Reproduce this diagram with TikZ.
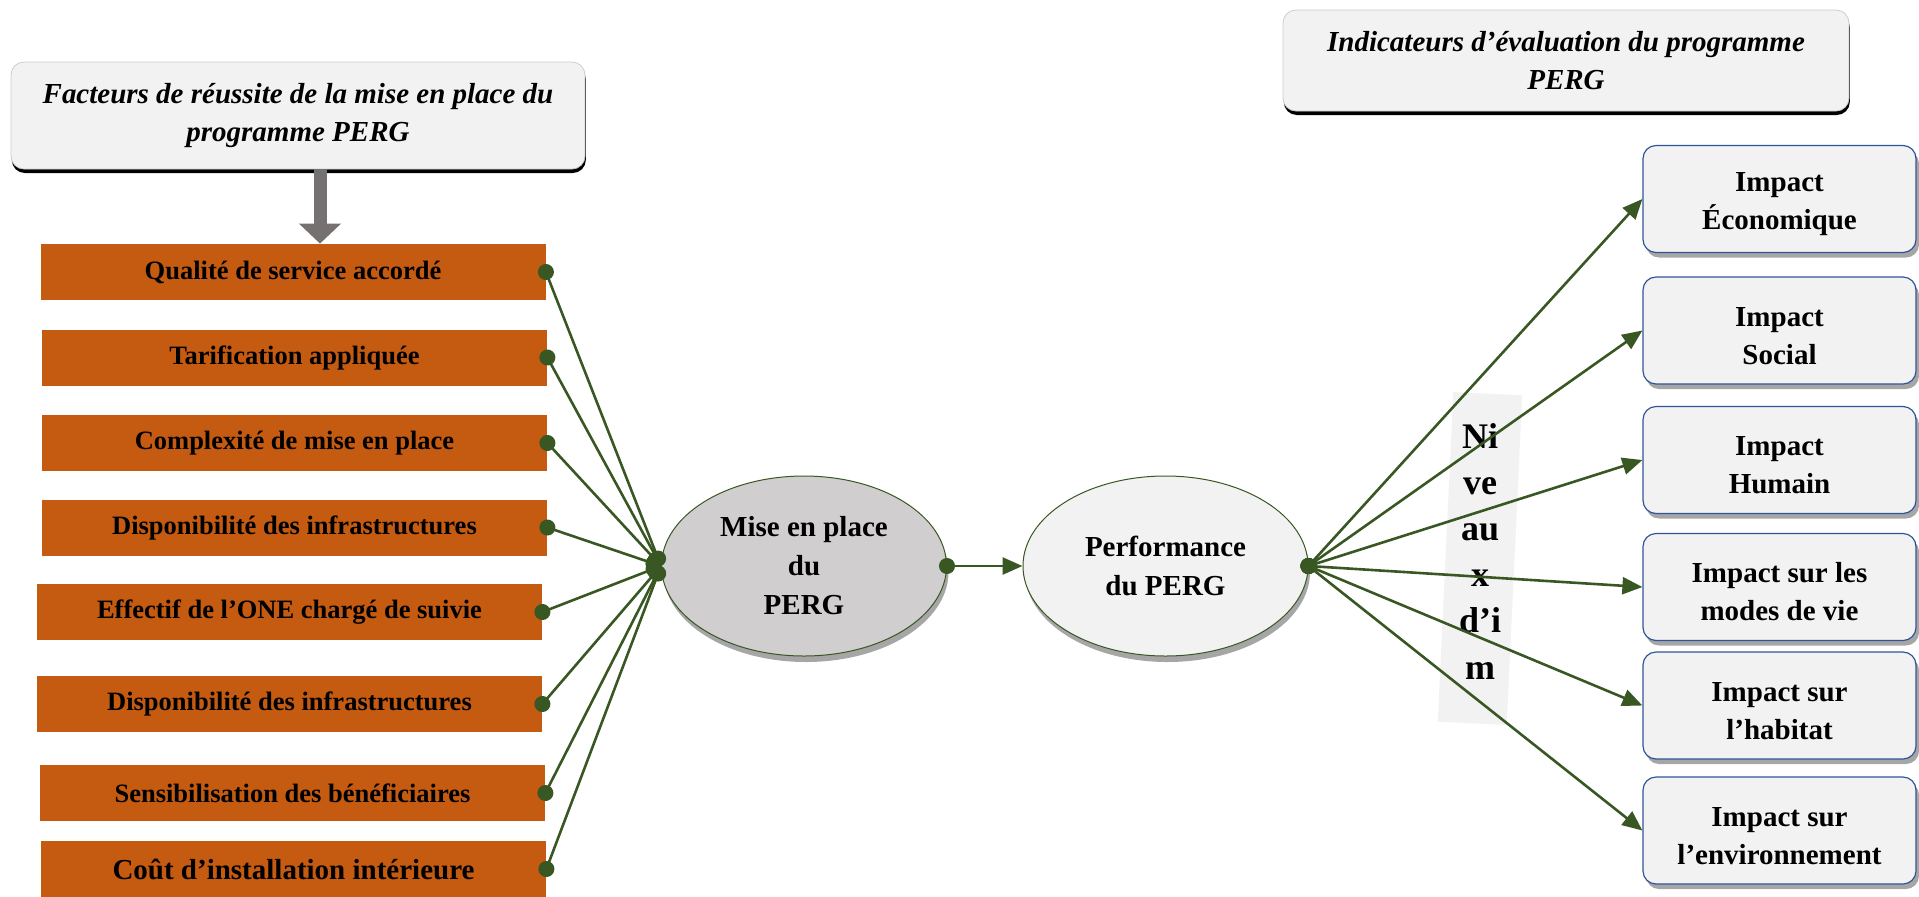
\documentclass[tikz,border=0pt]{standalone}
\usepackage{fontspec}
\setmainfont{Liberation Serif}
\usetikzlibrary{shapes.geometric,arrows.meta,shadows}
\definecolor{FacOrange}{RGB}{197,90,17}
\definecolor{LinkGreen}{RGB}{56,87,35}
\definecolor{BoxGray}{RGB}{242,242,242}
\definecolor{MepGray}{RGB}{208,206,206}
\definecolor{ImpBlue}{RGB}{47,85,151}
\definecolor{ArrowGray}{RGB}{118,113,113}
\tikzset{
  header/.style={draw=gray!40,fill=BoxGray,rounded corners=6.5pt,inner sep=0pt,align=center,
    font=\fontsize{14.5}{19}\selectfont\bfseries\itshape,
    drop shadow={shadow xshift=0.4pt,shadow yshift=-2pt,fill=black,opacity=1}},
  facteur/.style={fill=FacOrange,minimum width=252.5pt,minimum height=28pt,inner sep=0pt,
    font=\fontsize{13.25}{16}\selectfont\bfseries},
  bulle/.style={ellipse,draw=LinkGreen,line width=0.5pt,minimum width=142.5pt,minimum height=90pt,
    inner sep=0pt,align=center,font=\fontsize{14.5}{19.5}\selectfont\bfseries,
    drop shadow={shadow xshift=1pt,shadow yshift=-3pt,fill=gray!70,opacity=1}},
  impact/.style={draw=ImpBlue,line width=0.6pt,fill=BoxGray,rounded corners=6.5pt,
    minimum width=136.5pt,minimum height=53.5pt,inner sep=0pt,align=center,
    font=\fontsize{14.5}{19}\selectfont\bfseries,
    drop shadow={shadow xshift=1.5pt,shadow yshift=-2.5pt,fill=gray!70,opacity=1}},
  leftlink/.style={LinkGreen,line width=1.3pt,
    {Circle[length=8pt,width=8pt]}-{Circle[length=8pt,width=8pt]},shorten <=-4pt},
  rightlink/.style={LinkGreen,line width=1.3pt,
    {Circle[length=8pt,width=8pt]}-{Triangle[length=10pt,width=8.5pt]},shorten <=-4pt},
  bigarrow/.style={ArrowGray,line width=6.5pt,-{Triangle[length=10pt,width=20.5pt]}}
}
\begin{document}
\begin{tikzpicture}[x=0.5pt,y=-0.5pt]
  \useasboundingbox (0,0) rectangle (1919,896);
  % Headers
  \node[header,minimum width=287pt,minimum height=53.5pt] (hdrL) at (298,115.5)
    {Facteurs de réussite de la mise en place du\\programme PERG};
  \node[header,minimum width=283pt,minimum height=50.5pt] (hdrR) at (1566,60.5)
    {Indicateurs d’évaluation du programme\\PERG};
  % Success factors
  \foreach \n/\x/\y/\txt in {1/293/272/Qualité de service accordé,
      2/294.5/357.5/Tarification appliquée,
      3/294.5/443/Complexité de mise en place,
      4/294.5/527.5/Disponibilité des infrastructures,
      5/289.5/612/Effectif de l’ONE chargé de suivie,
      6/289.5/704/Disponibilité des infrastructures,
      7/292.5/793/Sensibilisation des bénéficiaires}
    \node[facteur] (f\n) at (\x,\y) {\txt};
  \node[facteur,font=\fontsize{14.5}{17}\selectfont\bfseries] (f8) at (293.5,869)
    {Coût d’installation intérieure};
  \draw[bigarrow] ([xshift=11pt]hdrL.south) -- ([xshift=11pt]hdrL.south |- f1.north);
  % Central ellipses
  \node[bulle,fill=MepGray] (mep) at (804,566) {Mise en place\\du\\PERG};
  \node[bulle,fill=BoxGray] (perf) at (1165.5,566) {Performance\\du PERG};
  % Level band
  \node[fill=BoxGray,minimum width=34.5pt,minimum height=165pt,inner sep=0pt,rotate=-2.7]
    (bande) at (1480,558.5) {};
  \node[align=center,inner sep=0pt,font=\fontsize{18}{23.1}\selectfont\bfseries]
    (niv) at (1480,551) {Ni\\ve\\au\\x\\d’i\\m};
  % Impact indicators
  \foreach \n/\y/\txt in {1/199/{Impact\\Économique},
      2/330.5/{Impact\\Social},
      3/460/{Impact\\Humain},
      4/587/{Impact sur les\\modes de vie},
      5/705.5/{Impact sur\\l’habitat},
      6/830.5/{Impact sur\\l’environnement}}
    \node[impact] (i\n) at (1779.5,\y) {\rule{0pt}{15pt}\txt};
  % Links
  \foreach \n in {1,...,8}
    \draw[leftlink] (f\n.east) -- (mep.west);
  \draw[rightlink] (mep.east) -- (perf.west);
  \foreach \n in {1,...,6}
    \draw[rightlink] (perf.east) -- (i\n.west);
\end{tikzpicture}
\end{document}
